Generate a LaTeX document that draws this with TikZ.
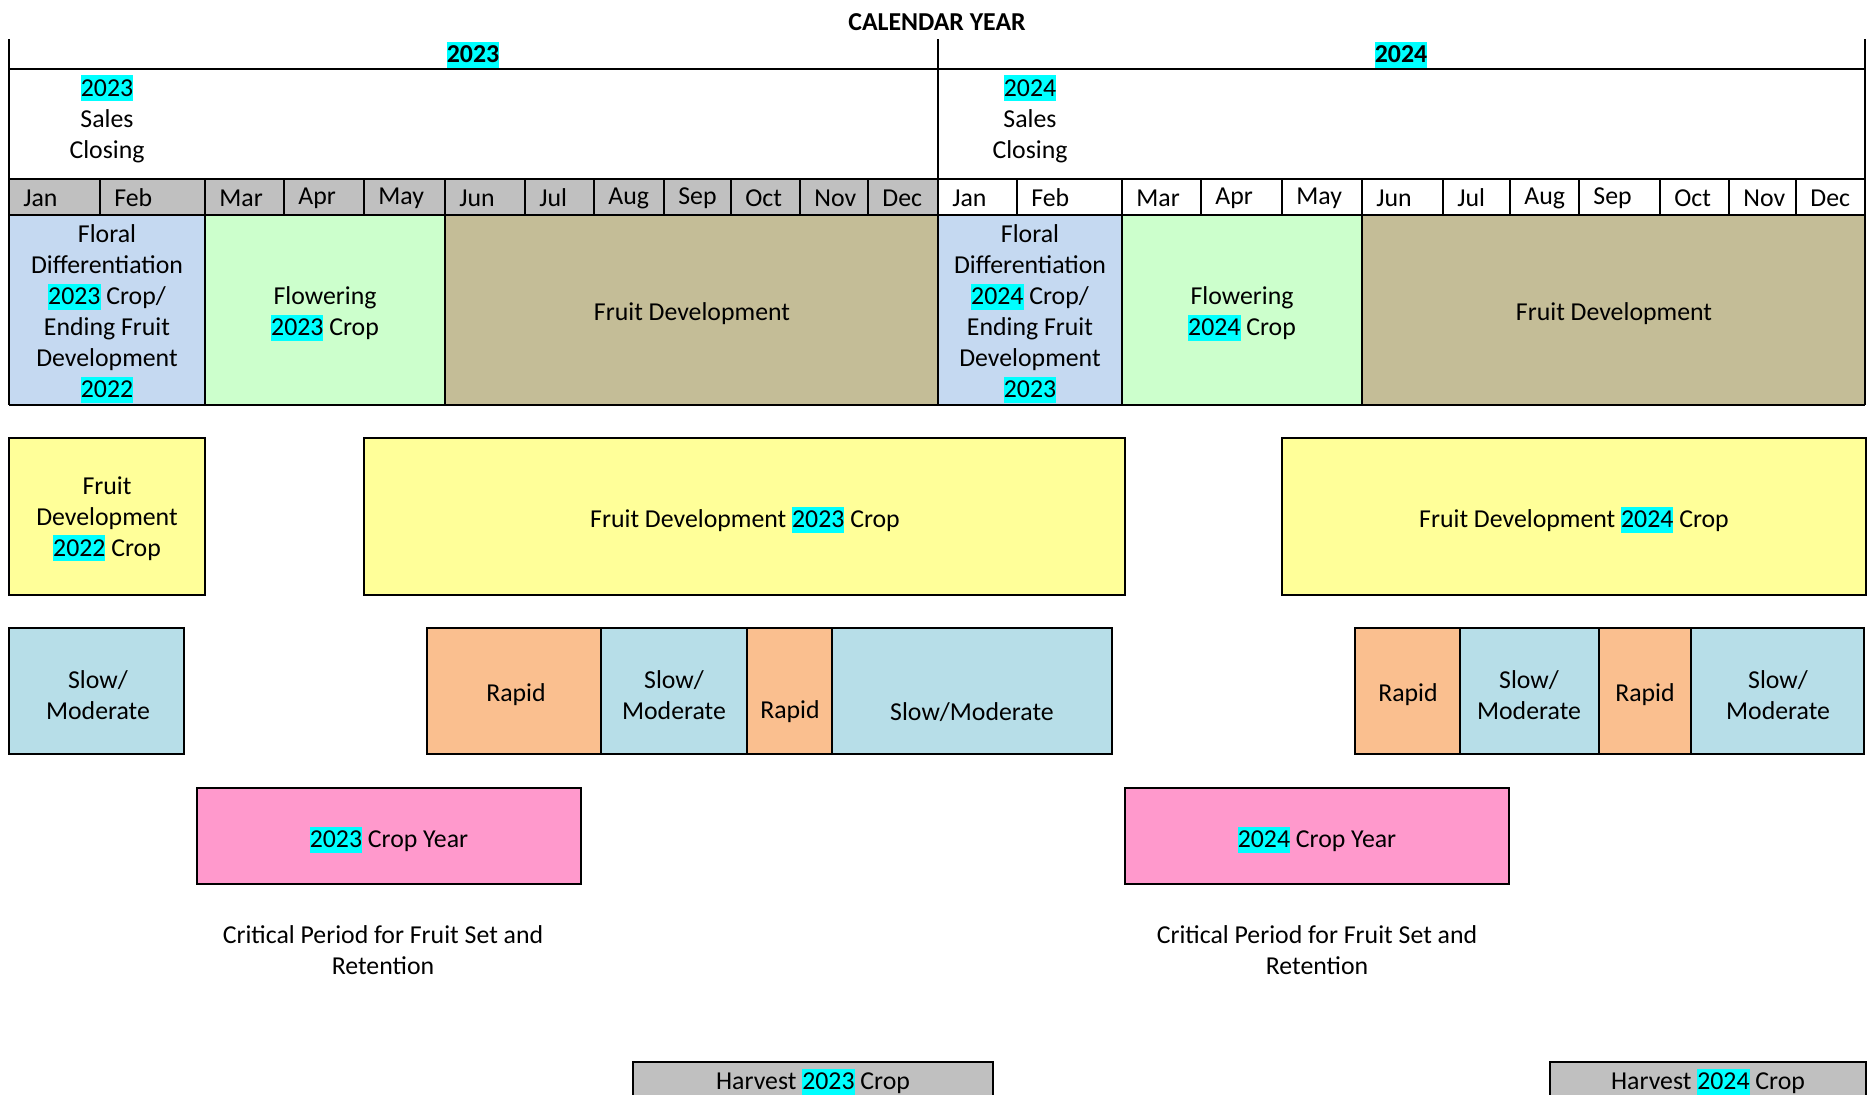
\documentclass[tikz,border=0pt]{standalone}
\usepackage{fontspec}
\setmainfont{Carlito}
\usetikzlibrary{positioning}

\definecolor{hlcyan}{HTML}{00FFFF}
\definecolor{monthgray}{HTML}{C0C0C0}
\definecolor{floralblue}{HTML}{C5D9F1}
\definecolor{flowergreen}{HTML}{CCFFCC}
\definecolor{fruittan}{HTML}{C4BD97}
\definecolor{cropyellow}{HTML}{FFFF99}
\definecolor{slowblue}{HTML}{B7DEE8}
\definecolor{rapidorange}{HTML}{FABF8F}
\definecolor{croppink}{HTML}{FF99CC}

\newcommand{\yr}[1]{{\setlength{\fboxsep}{0pt}\colorbox{hlcyan}{\rule[-2.6pt]{0pt}{13pt}#1}}}

\begin{document}
\begin{tikzpicture}[x=0.5pt, y=-0.5pt,
    every node/.style={font=\fontsize{12.9}{15.5}\selectfont, inner sep=0pt, align=center},
    tbl/.style={draw=black, line width=0.75pt},
    cell/.style={draw=black, line width=1pt}]
    \clip (0,0) rectangle (1870,1094);
    \useasboundingbox (0,0) rectangle (1870,1094);
    % Calendar year header
    \node[font=\fontsize{12.9}{15.5}\selectfont\bfseries] (title) at (937,22) {CALENDAR YEAR};
    \node[font=\fontsize{12.9}{15.5}\selectfont\bfseries] (year23) at (473,55) {\yr{2023}};
    \node[font=\fontsize{12.9}{15.5}\selectfont\bfseries] (year24) at (1401,55) {\yr{2024}};
    % Sales closing
    \node (sales23) at (107,119) {\yr{2023}\\Sales\\Closing};
    \node (sales24) at (1030,119) {\yr{2024}\\Sales\\Closing};
    % Months
    \fill[monthgray] (9,179) rectangle (938,215);
    \foreach \m/\xa in {Jan/9, Feb/100, Mar/205, Apr/284, May/364, Jun/445, Jul/525, Aug/594, Sep/664, Oct/731, Nov/800, Dec/868} {
        \node[anchor=west] (m23\m) at (\xa+14,198) {\m};
    }
    \foreach \m/\xa in {Jan/938, Feb/1017, Mar/1122, Apr/1201, May/1282, Jun/1362, Jul/1443, Aug/1510, Sep/1579, Oct/1660, Nov/1729, Dec/1796} {
        \node[anchor=west] (m24\m) at (\xa+14,198) {\m};
    }
    \foreach \xa in {100,205,284,364,445,525,594,664,731,800,868,1017,1122,1201,1282,1362,1443,1510,1579,1660,1729,1796} {
        \draw[tbl] (\xa,179) -- (\xa,215);
    }
    % Phases
    \fill[floralblue] (9,215) rectangle (205,405);
    \fill[flowergreen] (205,215) rectangle (445,405);
    \fill[fruittan] (445,215) rectangle (938,405);
    \fill[floralblue] (938,215) rectangle (1122,405);
    \fill[flowergreen] (1122,215) rectangle (1362,405);
    \fill[fruittan] (1362,215) rectangle (1865,405);
    \foreach \xa in {205,445,1122,1362} {
        \draw[tbl] (\xa,215) -- (\xa,405);
    }
    \node (floral23) at (107,314) {Floral\\Differentiation\\\yr{2023} Crop/\\Ending Fruit\\Development\\\yr{2022}};
    \node (flower23) at (325,314) {Flowering\\\yr{2023} Crop};
    \node (fruit23) at (692,314) {Fruit Development};
    \node (floral24) at (1030,314) {Floral\\Differentiation\\\yr{2024} Crop/\\Ending Fruit\\Development\\\yr{2023}};
    \node (flower24) at (1242,314) {Flowering\\\yr{2024} Crop};
    \node (fruit24) at (1614,314) {Fruit Development};
    % Table lines
    \draw[tbl] (9,39) -- (9,405);
    \draw[tbl] (938,39) -- (938,405);
    \draw[tbl] (1865,39) -- (1865,405);
    \draw[tbl] (9,69) -- (1865,69);
    \draw[tbl] (9,179) -- (1865,179);
    \draw[tbl] (9,215) -- (1865,215);
    \draw[cell] (9,405) -- (1865,405);
    % Fruit development per crop
    \draw[cell, fill=cropyellow] (9,438) rectangle (205,595);
    \draw[cell, fill=cropyellow] (364,438) rectangle (1125,595);
    \draw[cell, fill=cropyellow] (1282,438) rectangle (1866,595);
    \node (crop22) at (107,519) {Fruit\\Development\\\yr{2022} Crop};
    \node (crop23) at (745,520) {Fruit Development \yr{2023} Crop};
    \node (crop24) at (1574,520) {Fruit Development \yr{2024} Crop};
    % Growth rate
    \draw[cell, fill=slowblue] (9,628) rectangle (184,754);
    \draw[cell, fill=rapidorange] (427,628) rectangle (601,754);
    \draw[cell, fill=slowblue] (601,628) rectangle (747,754);
    \draw[cell, fill=rapidorange] (747,628) rectangle (832,754);
    \draw[cell, fill=slowblue] (832,628) rectangle (1112,754);
    \draw[cell, fill=rapidorange] (1355,628) rectangle (1460,754);
    \draw[cell, fill=slowblue] (1460,628) rectangle (1599,754);
    \draw[cell, fill=rapidorange] (1599,628) rectangle (1691,754);
    \draw[cell, fill=slowblue] (1691,628) rectangle (1864,754);
    \node (slowA) at (98,695) {Slow/\\Moderate};
    \node (rapidA) at (516,695) {Rapid};
    \node (slowB) at (674,695) {Slow/\\Moderate};
    \node (rapidB) at (790,712) {Rapid};
    \node (slowC) at (972,712) {Slow/Moderate};
    \node (rapidC) at (1408,695) {Rapid};
    \node (slowD) at (1529,695) {Slow/\\Moderate};
    \node (rapidD) at (1645,695) {Rapid};
    \node (slowE) at (1778,695) {Slow/\\Moderate};
    % Crop years
    \draw[cell, fill=croppink] (197,788) rectangle (581,884);
    \draw[cell, fill=croppink] (1125,788) rectangle (1509,884);
    \node (cropyr23) at (389,840) {\yr{2023} Crop Year};
    \node (cropyr24) at (1317,840) {\yr{2024} Crop Year};
    \node (crit23) at (383,950) {Critical Period for Fruit Set and\\Retention};
    \node (crit24) at (1317,950) {Critical Period for Fruit Set and\\Retention};
    % Harvest
    \draw[cell, fill=monthgray] (633,1062) rectangle (993,1110);
    \draw[cell, fill=monthgray] (1550,1062) rectangle (1866,1110);
    \node (harv23) at (813,1082) {Harvest \yr{2023} Crop};
    \node (harv24) at (1708,1082) {Harvest \yr{2024} Crop};
\end{tikzpicture}
\end{document}
